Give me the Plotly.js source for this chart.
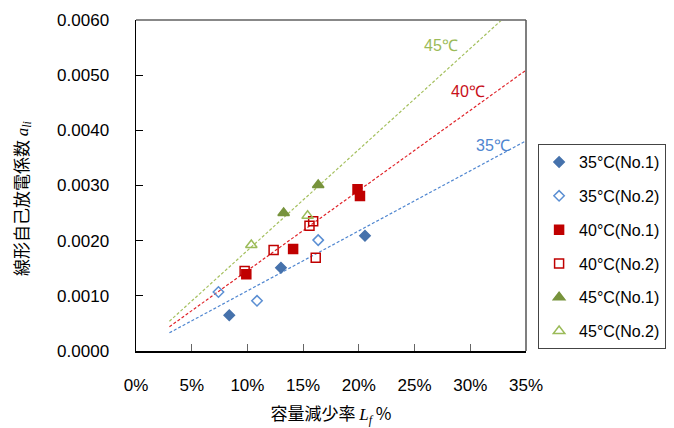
<!DOCTYPE html>
<html>
<head>
<meta charset="utf-8">
<script src="https://cdn.plot.ly/plotly-3.0.1.min.js"></script>
<style>body{margin:0;background:#fff}#chart{width:674px;height:428px}</style>
</head>
<body>
<div id="chart"></div>
<script>
// Data (x = capacity loss fraction, y = coefficient)
const x35n1 = [0.0837, 0.1301, 0.2055];
const y35n1 = [0.00065, 0.00151, 0.00209];
const x35n2 = [0.0740, 0.1086, 0.1635];
const y35n2 = [0.00107, 0.00091, 0.00201];
const x40n1 = [0.0990, 0.1410, 0.1988, 0.2010];
const y40n1 = [0.00139, 0.00185, 0.00293, 0.00281];
const x40n2 = [0.0975, 0.1235, 0.1557, 0.1590, 0.1613];
const y40n2 = [0.00145, 0.00183, 0.00227, 0.00235, 0.00169];
const x45n1 = [0.1325, 0.1635];
const y45n1 = [0.00250, 0.00301];
const x45n2 = [0.1035, 0.1540];
const y45n2 = [0.00192, 0.00245];
// trend lines (end points)
const trendX = [0.03, 0.35];
const trend35 = [0.00033, 0.00381];
const trend40 = [0.00044, 0.00509];
const trend45 = [0.00054, 0.00640];
const seriesNames = ['35°C(No.1)','35°C(No.2)','40°C(No.1)','40°C(No.2)','45°C(No.1)','45°C(No.2)'];
const trendLabels = ['35℃','40℃','45℃'];
const xTickVals = [0,0.05,0.10,0.15,0.20,0.25,0.30,0.35];
const yTickVals = [0,0.001,0.002,0.003,0.004,0.005,0.006];

const latin = 'Liberation Sans, Arial, sans-serif';
const cjk = '"Noto Sans CJK JP", "Liberation Sans", sans-serif';

function pts(x, y, name, symbol, color, lineColor, size, grp) {
  return {x, y, name, type:'scatter', mode:'markers', legendgroup:grp,
    marker:{symbol, size, color, line:{color:lineColor, width:1.5}}, cliponaxis:false};
}
function trend(y, color) {
  return {x: trendX, y, type:'scatter', mode:'lines', showlegend:false, hoverinfo:'skip',
    line:{color, width:1.2, dash:'3px,2px'}};
}
const data = [
  trend(trend35, '#4F86D0'),
  trend(trend40, '#E0242A'),
  trend(trend45, '#A5C05F'),
  pts(x35n1, y35n1, seriesNames[0], 'diamond', '#4672AC', '#4672AC', 8, 'a'),
  pts(x35n2, y35n2, seriesNames[1], 'diamond-open', '#5B8FD3', '#5B8FD3', 8, 'b'),
  pts(x40n1, y40n1, seriesNames[2], 'square', '#C00000', '#C00000', 9, 'c'),
  pts(x40n2, y40n2, seriesNames[3], 'square-open', '#C00000', '#C00000', 9, 'd'),
  pts(x45n1, y45n1, seriesNames[4], 'triangle-up', '#77933C', '#77933C', 10, 'e'),
  pts(x45n2, y45n2, seriesNames[5], 'triangle-up-open', '#9BBB59', '#9BBB59', 10, 'f')
];

const yTitle = '<span style="font-family:\'Noto Sans CJK JP\'">線形自己放電係数</span> <i style="font-family:\'Liberation Serif\'">a</i><sub><i style="font-family:\'Liberation Serif\'">li</i></sub>';
const xTitle = '<span style="font-family:\'Noto Sans CJK JP\'">容量減少率</span> <i style="font-family:\'Liberation Serif\'">L</i><sub><i style="font-family:\'Liberation Serif\'">f</i></sub> %';

const layout = {
  width:674, height:428,
  margin:{l:136, r:148, t:20, b:77, autoexpand:false},
  paper_bgcolor:'#fff', plot_bgcolor:'#fff',
  font:{family:latin, size:16, color:'#000'},
  showlegend:true,
  legend:{x:1.031, y:0.625, xanchor:'left', yanchor:'top', traceorder:'grouped',
    tracegroupgap:10, bordercolor:'#444', borderwidth:1, font:{family:latin, size:16},
    bgcolor:'#fff'},
  xaxis:{range:[0,0.35], tickvals:xTickVals, tickformat:'.0%', ticks:'inside', ticklen:7,
    tickcolor:'#666', showline:true, linecolor:'#000', linewidth:1.5, showgrid:false,
    zeroline:false, ticklabelstandoff:18, tickfont:{size:17, family:latin},
    title:{text:xTitle, font:{size:17, family:cjk}, standoff:14}},
  yaxis:{range:[0,0.006], tickvals:yTickVals, tickformat:'.4f', ticks:'inside', ticklen:7,
    tickcolor:'#000', showline:true, linecolor:'#000', linewidth:1.5, showgrid:false,
    zeroline:false, ticklabelstandoff:22, tickfont:{size:17, family:latin}},
  shapes:[
    {type:'line', xref:'paper', yref:'paper', x0:0, x1:1, y0:1, y1:1, line:{color:'#888', width:2}},
    {type:'line', xref:'paper', yref:'paper', x0:1, x1:1, y0:0, y1:1, line:{color:'#555', width:1.5}}
  ],
  annotations:[
    {x:0.3204, y:0.00373, text:trendLabels[0], showarrow:false, font:{size:16, color:'#4F86D0', family:latin}},
    {x:0.2979, y:0.00470, text:trendLabels[1], showarrow:false, font:{size:16, color:'#C8101A', family:latin}},
    {x:0.2737, y:0.00553, text:trendLabels[2], showarrow:false, font:{size:16, color:'#9BBB59', family:latin}},
    {xref:'paper', yref:'paper', x:-0.295, y:0.462, text:yTitle, textangle:-90, showarrow:false,
      xanchor:'center', yanchor:'middle', font:{size:17, family:cjk, color:'#000'}}
  ]
};
Plotly.newPlot('chart', data, layout, {displayModeBar:false, staticPlot:true});
</script>
</body>
</html>
